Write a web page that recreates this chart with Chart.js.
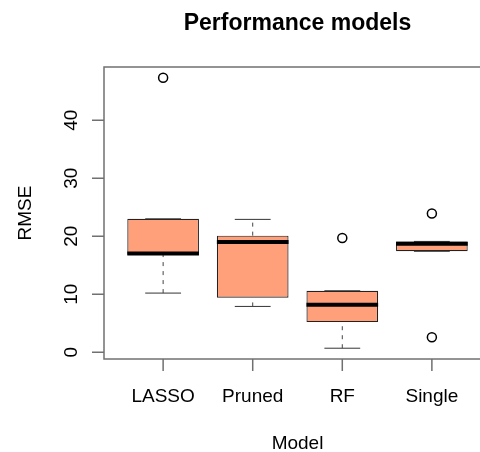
<!DOCTYPE html>
<html>
<head>
<meta charset="utf-8">
<script src="https://cdn.jsdelivr.net/npm/chart.js@4/dist/chart.umd.min.js"></script>
<style>
  html, body { margin: 0; padding: 0; background: #fff; overflow: hidden; }
  #wrap { width: 480px; height: 452px; overflow: hidden; }
  #perf { display: block; width: 500px; height: 452px; }
</style>
</head>
<body>
<div id="wrap"><canvas id="perf" width="500" height="452"></canvas></div>
<script>
// Box summary per model (RMSE)
const models = ['LASSO', 'Pruned', 'RF', 'Single'];
const lowerWhisker = [10.2, 7.9, 0.7, 17.4];
const q1 = [16.8, 9.4, 5.2, 17.4];
const median = [17.0, 19.0, 8.2, 18.7];
const q3 = [23.0, 20.1, 10.6, 19.1];
const upperWhisker = [23.0, 22.9, 10.6, 19.1];
const outliers = [[47.3], [], [19.7], [23.9, 2.6]];
const yTicks = [0, 10, 20, 30, 40];

const FONT = "'Liberation Sans', Arial, sans-serif";

function segment(label, x0, y0, x1, y1, extra) {
    return Object.assign({
        type: 'line',
        label: label,
        data: [{ x: x0, y: y0 }, { x: x1, y: y1 }],
        borderColor: '#000',
        borderWidth: 1,
        pointRadius: 0,
        fill: false,
        order: 0
    }, extra || {});
}

const datasets = [];

// boxes as floating bars
datasets.push({
    type: 'bar',
    label: 'box',
    data: models.map((m, i) => ({ x: i + 1, y: [q1[i], q3[i]] })),
    backgroundColor: '#FFA07A',
    borderColor: '#222',
    borderWidth: 1.2,
    borderSkipped: false,
    barPercentage: 1,
    categoryPercentage: 0.8,
    order: 2
});

models.forEach((m, i) => {
    const x = i + 1;
    // dashed whiskers
    if (upperWhisker[i] > q3[i]) {
        datasets.push(segment(m + ' upper', x, q3[i], x, upperWhisker[i],
            { borderDash: [4, 5], borderColor: '#444', order: 1 }));
    }
    if (lowerWhisker[i] < q1[i]) {
        datasets.push(segment(m + ' lower', x, lowerWhisker[i], x, q1[i],
            { borderDash: [4, 5], borderColor: '#444', order: 1 }));
    }
    // staples
    datasets.push(segment(m + ' cap hi', x - 0.2, upperWhisker[i], x + 0.2, upperWhisker[i], { borderColor: '#333', order: 1 }));
    datasets.push(segment(m + ' cap lo', x - 0.2, lowerWhisker[i], x + 0.2, lowerWhisker[i], { borderColor: '#333', order: 1 }));
    // median
    datasets.push(segment(m + ' median', x - 0.4, median[i], x + 0.4, median[i], { borderWidth: 4, borderCapStyle: 'butt' }));
});

datasets.push({
    type: 'scatter',
    label: 'outliers',
    data: outliers.flatMap((vals, i) => vals.map(v => ({ x: i + 1, y: v }))),
    pointStyle: 'circle',
    pointRadius: 4.5,
    pointBorderWidth: 1.5,
    pointBorderColor: '#000',
    pointBackgroundColor: 'rgba(255,255,255,0)',
    order: 0
});

// frame, ticks and text drawn on the chart's own scales
const rAxes = {
    id: 'rAxes',
    afterDraw(chart) {
        const { ctx, chartArea: a, scales: { x, y } } = chart;
        ctx.save();
        ctx.strokeStyle = '#707070';
        ctx.lineWidth = 1.5;
        ctx.strokeRect(a.left, a.top, a.right - a.left, a.bottom - a.top);

        ctx.beginPath();
        yTicks.forEach(v => {
            const py = y.getPixelForValue(v);
            ctx.moveTo(a.left - 12, py);
            ctx.lineTo(a.left, py);
        });
        models.forEach((m, i) => {
            const px = x.getPixelForValue(i + 1);
            ctx.moveTo(px, a.bottom);
            ctx.lineTo(px, a.bottom + 12);
        });
        ctx.stroke();

        ctx.fillStyle = '#000';
        ctx.textAlign = 'center';
        ctx.textBaseline = 'alphabetic';
        ctx.font = '19px ' + FONT;
        models.forEach((m, i) => {
            ctx.fillText(m, x.getPixelForValue(i + 1), 402);
        });
        yTicks.forEach(v => {
            ctx.save();
            ctx.translate(77, y.getPixelForValue(v));
            ctx.rotate(-Math.PI / 2);
            ctx.fillText(String(v), 0, 0);
            ctx.restore();
        });

        const midX = (a.left + a.right) / 2;
        const midY = (a.top + a.bottom) / 2;
        ctx.fillText('Model', midX, 449);
        ctx.save();
        ctx.translate(31, midY);
        ctx.rotate(-Math.PI / 2);
        ctx.fillText('RMSE', 0, 0);
        ctx.restore();

        ctx.font = 'bold 23px ' + FONT;
        ctx.fillText('Performance models', midX, 30);
        ctx.restore();
    }
};

new Chart(document.getElementById('perf'), {
    type: 'bar',
    data: { datasets: datasets },
    options: {
        responsive: false,
        animation: false,
        events: [],
        layout: { padding: { left: 104, right: 9, top: 67, bottom: 93 } },
        plugins: {
            legend: { display: false },
            tooltip: { enabled: false },
            title: { display: false }
        },
        scales: {
            x: {
                type: 'linear',
                display: false,
                offset: false,
                min: 0.34,
                max: 4.66,
                afterBuildTicks: scale => {
                    scale.ticks = models.map((m, i) => ({ value: i + 1 }));
                }
            },
            y: {
                type: 'linear',
                display: false,
                min: -1.16,
                max: 49.16
            }
        }
    },
    plugins: [rAxes]
});
</script>
</body>
</html>
